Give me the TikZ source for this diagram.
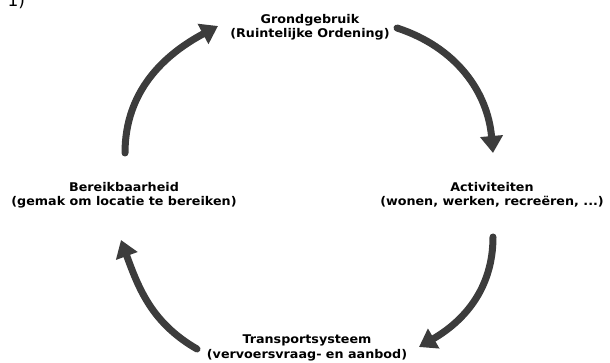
\documentclass[tikz,border=0pt]{standalone}
\usepackage{fontspec}
\setmainfont{DejaVu Sans}
\newfontfamily\lblfont[FakeStretch=1.06]{DejaVu Sans}
\usetikzlibrary{arrows.meta}
\definecolor{arrowgray}{HTML}{3C3C3C}
\tikzset{
  cyclearrow/.style={draw=arrowgray, line width=7pt, line cap=round,
    -{Triangle[width=22pt,length=17pt]}},
  lbl/.style={font=\lblfont\bfseries\fontsize{12}{14.5}\selectfont, align=center, inner sep=0pt}
}
\begin{document}
\begin{tikzpicture}[x=1pt,y=-1pt]
\useasboundingbox (0,0) rectangle (610,363);
\clip (0,0) rectangle (610,363);
\node[font=\fontsize{17}{17}\selectfont, anchor=base west] (num) at (4,7) {1)};
\node[lbl] (grond) at (310,27) {Grondgebruik\\(Ruintelijke Ordening)};
\node[lbl] (activ) at (492,195) {Activiteiten\\(wonen, werken, recreëren, ...)};
\node[lbl] (trans) at (307,348) {Transportsysteem\\(vervoersvraag- en aanbod)};
\node[lbl] (bereik) at (124,195) {Bereikbaarheid\\(gemak om locatie te bereiken)};
\coordinate (a1s) at (125,153);
\coordinate (a1e) at (218,26);
\coordinate (a2s) at (397,28);
\coordinate (a2e) at (493,153);
\coordinate (a3s) at (493,237);
\coordinate (a3e) at (419,347);
\coordinate (a4s) at (197,349);
\coordinate (a4e) at (121,240);
\draw[cyclearrow] (a1s) to[out=90, in=208] (a1e);
\draw[cyclearrow] (a2s) to[out=-18, in=95] (a2e);
\draw[cyclearrow] (a3s) to[out=-90, in=30] (a3e);
\draw[cyclearrow] (a4s) to[out=150, in=-70] (a4e);
\end{tikzpicture}
\end{document}
